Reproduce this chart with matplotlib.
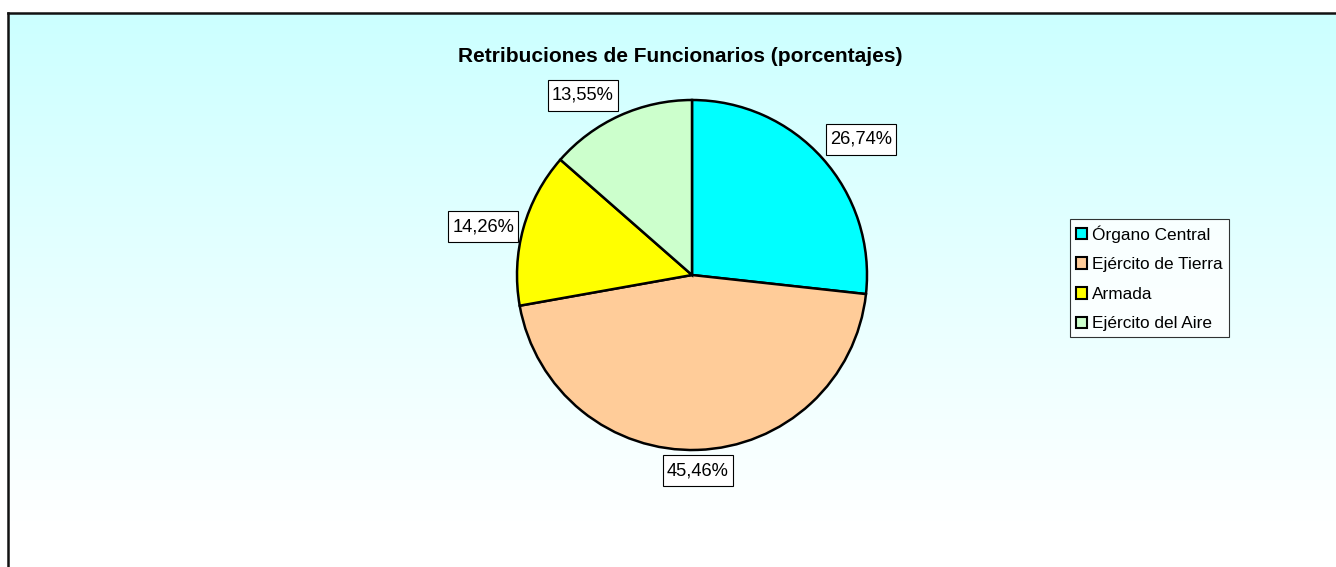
import numpy as np
import matplotlib
matplotlib.use("Agg")
import matplotlib.pyplot as plt
from matplotlib.colors import LinearSegmentedColormap
from matplotlib.patches import Rectangle
from matplotlib.transforms import IdentityTransform

plt.rcParams["font.family"] = ["Liberation Sans", "DejaVu Sans"]

categorias = ["Órgano Central", "Ejército de Tierra", "Armada", "Ejército del Aire"]
porcentajes = [26.74, 45.46, 14.26, 13.55]
etiquetas = ["26,74%", "45,46%", "14,26%", "13,55%"]
colores = ["#00FFFF", "#FFCC99", "#FFFF00", "#CCFFCC"]

W, H = 1336, 567
fig = plt.figure(figsize=(W / 100, H / 100), dpi=100)

# fondo con degradado y marco
bg = fig.add_axes([8 / W, -0.05, 1.0, 1 - 13 / H + 0.05])
cmap = LinearSegmentedColormap.from_list("fondo", ["#CCFFFF", "#FFFFFF"])
grad = np.linspace(0, 1, 256).reshape(-1, 1)
grad = np.clip(grad * 1.12, 0, 1)
bg.imshow(grad, aspect="auto", cmap=cmap, extent=[0, 1, 0, 1], origin="upper")
bg.set_xticks([])
bg.set_yticks([])
for lado in ["left", "top"]:
    bg.spines[lado].set_linewidth(1.8)
    bg.spines[lado].set_color("#111111")
bg.set_zorder(0)

fig.text(680 / W, 1 - 56 / H, "Retribuciones de Funcionarios (porcentajes)",
         ha="center", va="center", fontsize=15, fontweight="bold")

# tarta
cx, cy, r = 692, 275, 175
ax = fig.add_axes([(cx - r) / W, (H - cy - r) / H, 2 * r / W, 2 * r / H])
ax.set_zorder(1)
ax.patch.set_visible(False)
wedges, _ = ax.pie(porcentajes, colors=colores, startangle=90, counterclock=False,
                   radius=1, wedgeprops=dict(edgecolor="black", linewidth=1.8))
ax.set_xlim(-1, 1)
ax.set_ylim(-1, 1)
ax.set_aspect("auto")
ax.axis("off")

# etiquetas con caja (más margen vertical que horizontal)
padx, pady = 4, 7  # px
textos = []
for w, txt in zip(wedges, etiquetas):
    ang = np.deg2rad((w.theta1 + w.theta2) / 2)
    c, s = np.cos(ang), np.sin(ang)
    ha = "left" if c > 0.3 else ("right" if c < -0.3 else "center")
    va = "bottom" if s > 0.3 else ("top" if s < -0.3 else "center")
    ox = padx if ha == "left" else (-padx if ha == "right" else 0)
    oy = pady if va == "bottom" else (-pady if va == "top" else 0)
    d = 1.03
    t = ax.annotate(txt, (d * c, d * s), xytext=(ox * 0.72, oy * 0.72),
                    textcoords="offset points", ha=ha, va=va, fontsize=13.2,
                    annotation_clip=False, zorder=5)
    textos.append(t)

fig.canvas.draw()
ren = fig.canvas.get_renderer()
for t in textos:
    bb = t.get_window_extent(ren)
    rect = Rectangle((bb.x0 - padx, bb.y0 - pady), bb.width + 2 * padx,
                     bb.height + 2 * pady, facecolor="white",
                     edgecolor="black", linewidth=0.8, zorder=4)
    ax.add_patch(rect)
    rect.set_transform(IdentityTransform())
    rect.set_clip_on(False)

leg = fig.legend(wedges, categorias, loc="upper left",
                 bbox_to_anchor=(1070 / W, 1 - 219 / H),
                 fontsize=12.4, frameon=True, fancybox=False,
                 handlelength=0.65, handleheight=0.65, handletextpad=0.3,
                 labelspacing=0.85, borderpad=0.35, borderaxespad=0)
leg.get_frame().set_edgecolor("black")
leg.get_frame().set_linewidth(0.8)
for h in leg.legend_handles:
    h.set_linewidth(1.5)

fig.savefig("out.png", dpi=100)
